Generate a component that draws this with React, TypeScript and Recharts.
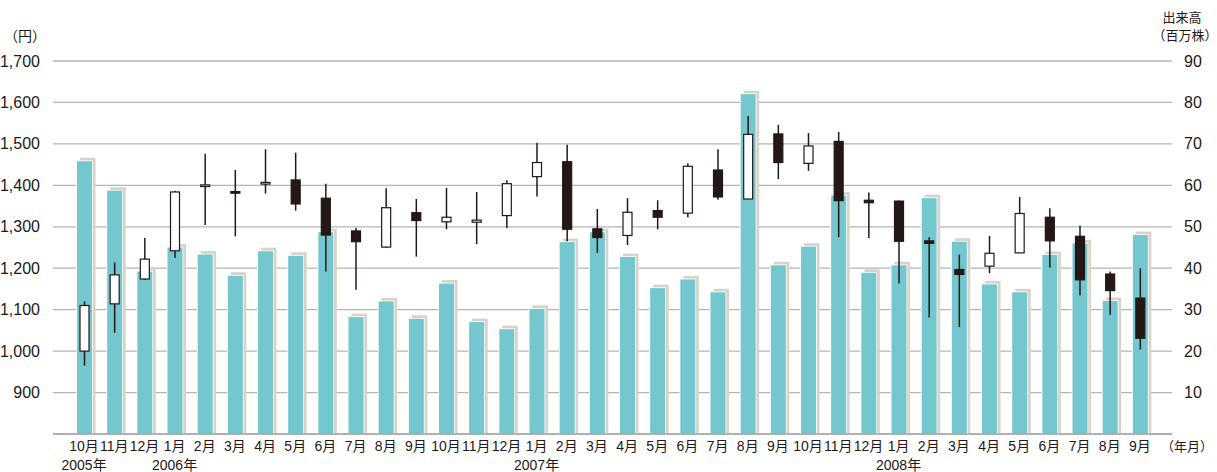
import React from "react";
import {
  ComposedChart,
  Bar,
  XAxis,
  YAxis,
  CartesianGrid,
} from "recharts";

const months = [
  "10月", "11月", "12月",
  "1月", "2月", "3月", "4月", "5月", "6月", "7月", "8月", "9月", "10月", "11月", "12月",
  "1月", "2月", "3月", "4月", "5月", "6月", "7月", "8月", "9月", "10月", "11月", "12月",
  "1月", "2月", "3月", "4月", "5月", "6月", "7月", "8月", "9月",
];

// year label shown under the month at the same index
const years = [
  "2005年", "", "",
  "2006年", "", "", "", "", "", "", "", "", "", "", "",
  "2007年", "", "", "", "", "", "", "", "", "", "", "",
  "2008年", "", "", "", "", "", "", "", "",
];

// 出来高（百万株）
const volume = [
  65.8, 58.7, 39.2, 45, 43.3, 38.2, 44.1, 43, 48.7, 28.2, 32, 27.8, 36.3, 27, 25.3,
  30.2, 46.3, 48.7, 42.7, 35.2, 37.3, 34.2, 82, 40.7, 45.2, 57.5, 38.9,
  40.7, 56.9, 46.4, 36.1, 34.2, 43.2, 46, 32.1, 48,
];

// 株価（円）
const open = [
  1000, 1114, 1174, 1242, 1400, 1385, 1403, 1413, 1369, 1290, 1251, 1334, 1312, 1311, 1327,
  1421, 1457, 1295, 1279, 1339, 1333, 1437, 1367, 1524, 1453, 1506, 1364,
  1362, 1266, 1197, 1205, 1237, 1323, 1277, 1186, 1128,
];
const high = [
  1120, 1214, 1273, 1387, 1476, 1437, 1487, 1479, 1404, 1297, 1393, 1367, 1394, 1384, 1412,
  1503, 1498, 1343, 1369, 1364, 1453, 1487, 1567, 1546, 1526, 1529, 1383,
  1363, 1275, 1233, 1278, 1372, 1345, 1303, 1192, 1200,
];
const low = [
  965, 1044, 1172, 1225, 1304, 1277, 1380, 1339, 1192, 1148, 1249, 1228, 1294, 1258, 1297,
  1373, 1265, 1237, 1256, 1294, 1323, 1365, 1367, 1415, 1435, 1275, 1273,
  1163, 1081, 1058, 1188, 1237, 1201, 1134, 1088, 1004,
];
const close = [
  1110, 1184, 1222, 1384, 1401, 1381, 1407, 1355, 1280, 1264, 1346, 1315, 1323, 1316, 1404,
  1455, 1294, 1274, 1335, 1323, 1446, 1372, 1523, 1455, 1495, 1363, 1358,
  1265, 1260, 1185, 1236, 1332, 1266, 1172, 1146, 1031,
];

const priceTicks = [800, 900, 1000, 1100, 1200, 1300, 1400, 1500, 1600, 1700];
const volumeTicks = [0, 10, 20, 30, 40, 50, 60, 70, 80, 90];

const data = months.map((m, i) => ({
  key: `p${i}`,
  month: m,
  year: years[i],
  volume: volume[i],
  open: open[i],
  high: high[i],
  low: low[i],
  close: close[i],
}));

const INK = "#231815";
const TEAL = "#74c6cf";
const SHADOW = "#d6d4c8";
const GRID = "#b5b5b5";
const FONT = "'Liberation Sans', 'Noto Sans CJK JP', sans-serif";

const VolumeShape = (props: any) => {
  const { x, y, width, height } = props;
  if (!height || height <= 0) return null;
  return (
    <g>
      <rect x={x + 3} y={y - 3.5} width={width + 0.5} height={height + 3.5} fill={SHADOW} />
      <rect x={x - 0.8} y={y - 0.8} width={width + 1.6} height={height + 0.8} fill="#fff" />
      <rect x={x} y={y} width={width} height={height} fill={TEAL} />
    </g>
  );
};

const CandleShape = (props: any) => {
  const { x, y, width, height, payload } = props;
  const top = Math.min(y, y + height);
  const h = Math.abs(height);
  const range = payload.high - payload.low;
  const py = (v: number) => top + ((payload.high - v) / range) * h;
  const cx = x + width / 2;
  const up = payload.close >= payload.open;
  const bTop = py(Math.max(payload.open, payload.close));
  const bBot = py(Math.min(payload.open, payload.close));
  const bh = Math.max(bBot - bTop, 1.6);
  return (
    <g>
      <line x1={cx} x2={cx} y1={top} y2={top + h} stroke={INK} strokeWidth={1.5} />
      <rect
        x={x}
        y={bTop}
        width={width}
        height={bh}
        fill={up ? "#fff" : INK}
        stroke={INK}
        strokeWidth={1.2}
      />
    </g>
  );
};

// month + year labels, placed from the axis line (plot bottom)
const MonthTick = (props: any) => {
  const { x, payload } = props;
  const d = data[payload.index];
  if (!d) return null;
  const base = 434;
  return (
    <g>
      <text x={x} y={base + 17} textAnchor="middle" fontSize={14} fill={INK} fontFamily={FONT}>
        {d.month}
      </text>
      {d.year && (
        <text x={x} y={base + 36} textAnchor="middle" fontSize={14} fill={INK} fontFamily={FONT}>
          {d.year}
        </text>
      )}
    </g>
  );
};

const PriceTick = (props: any) => {
  const { x, y, payload } = props;
  if (payload.value === 800) return null;
  return (
    <text x={x} y={y} dy={5.5} textAnchor="end" fontSize={16} fill={INK} fontFamily={FONT}>
      {payload.value.toLocaleString("en-US")}
    </text>
  );
};

const VolumeTick = (props: any) => {
  const { x, y, payload } = props;
  if (payload.value === 0) return null;
  return (
    <text x={x} y={y} dy={5.5} textAnchor="start" fontSize={16} fill={INK} fontFamily={FONT}>
      {payload.value}
    </text>
  );
};

export default function App() {
  return (
    <div style={{ position: "absolute", left: 0, top: 0, width: 1217, height: 472, background: "#fff" }}>
      <ComposedChart
        width={1217}
        height={472}
        data={data}
        margin={{ top: 61, right: 0, bottom: 0, left: 0 }}
        barCategoryGap={0}
      >
        <CartesianGrid
          xAxisId="main"
          yAxisId="price"
          vertical={false}
          stroke={GRID}
          strokeWidth={1.3}
        />
        <XAxis
          xAxisId="main"
          dataKey="key"
          interval={0}
          height={38}
          padding={{ left: 16, right: 17 }}
          tickLine={false}
          axisLine={{ stroke: "#a8a8a8", strokeWidth: 1.3 }}
          tick={<MonthTick />}
        />
        <XAxis
          xAxisId="candle"
          dataKey="key"
          orientation="top"
          hide
          padding={{ left: 16, right: 17 }}
        />
        <YAxis
          yAxisId="price"
          domain={[800, 1700]}
          ticks={priceTicks}
          width={53}
          axisLine={false}
          tickLine={false}
          tickMargin={7}
          tick={<PriceTick />}
        />
        <YAxis
          yAxisId="vol"
          orientation="right"
          domain={[0, 90]}
          ticks={volumeTicks}
          width={45}
          axisLine={false}
          tickLine={false}
          tickMargin={6}
          tick={<VolumeTick />}
        />
        <Bar
          xAxisId="main"
          yAxisId="vol"
          dataKey="volume"
          barSize={15}
          shape={<VolumeShape />}
          isAnimationActive={false}
        />
        <Bar
          xAxisId="candle"
          yAxisId="price"
          dataKey={(d: any) => [d.low, d.high]}
          barSize={9}
          shape={<CandleShape />}
          isAnimationActive={false}
        />
      </ComposedChart>
      <div style={{ position: "absolute", left: 0, top: 0, width: 1217, height: 472, pointerEvents: "none" }}>
        <svg width={1217} height={472} style={{ position: "absolute", left: 0, top: 0 }}>
          <text x={4} y={41} fontSize={14} fill={INK} fontFamily={FONT}>（円）</text>
          <text x={1182} y={22} fontSize={13} fill={INK} fontFamily={FONT} textAnchor="middle">出来高</text>
          <text x={1185} y={40} fontSize={13} fill={INK} fontFamily={FONT} textAnchor="middle">（百万株）</text>
          <text x={1161} y={451} fontSize={13} fill={INK} fontFamily={FONT}>（年月）</text>
        </svg>
      </div>
    </div>
  );
}
